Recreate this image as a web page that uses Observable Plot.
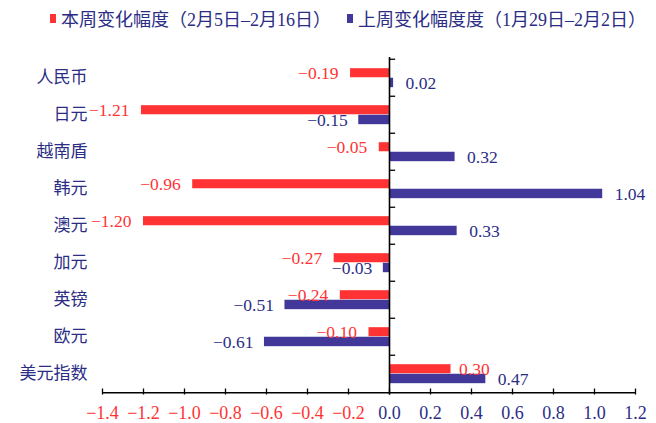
<!DOCTYPE html>
<html><head><meta charset="utf-8">
<script src="https://cdn.jsdelivr.net/npm/d3@7"></script>
<script src="https://cdn.jsdelivr.net/npm/@observablehq/plot@0.6"></script>
<style>
body{margin:0;background:#fff;width:656px;height:423px;overflow:hidden;}
#legend{height:36px;display:flex;align-items:center;font-family:"Liberation Serif","Times New Roman","Noto Sans CJK SC",serif;font-size:18px;color:#2b2d85;padding-left:50px;white-space:nowrap;}
#legend .item{display:flex;align-items:center;margin-right:16px;}
#legend .sw{width:6px;height:9px;margin-right:5px;display:inline-block;}
#chart svg{overflow:visible;}
</style></head><body>
<div id="legend"></div><div id="chart"></div>
<script>
const categories = ["人民币","日元","越南盾","韩元","澳元","加元","英镑","欧元","美元指数"];
const thisWeek = [-0.19,-1.21,-0.05,-0.96,-1.20,-0.27,-0.24,-0.10,0.30];
const lastWeek = [0.02,-0.15,0.32,1.04,0.33,-0.03,-0.51,-0.61,0.47];
const seriesNames = ["本周变化幅度（2月5日–2月16日）","上周变化幅度度（1月29日–2月2日）"];
const xTicks = [-1.4,-1.2,-1.0,-0.8,-0.6,-0.4,-0.2,0.0,0.2,0.4,0.6,0.8,1.0,1.2];

const RED = "#ff3333", BLUE = "#41389a", NAVY = "#2b2d85";
const SERIF = "'Liberation Serif','Times New Roman',serif";
const CJK = "'Liberation Serif','Noto Sans CJK SC',sans-serif";
const colors = [RED, BLUE];

const legend = document.getElementById("legend");
seriesNames.forEach((n,i)=>{
  const it = document.createElement("span"); it.className="item";
  const sw = document.createElement("span"); sw.className="sw"; sw.style.background=colors[i];
  it.appendChild(sw); it.appendChild(document.createTextNode(n));
  legend.appendChild(it);
});

const red = categories.map((c,i)=>({cat:c, v:thisWeek[i]}));
const blue = categories.map((c,i)=>({cat:c, v:lastWeek[i]}));
const fmt = d3.format(".2f");
const H = 387, MT = 21, MB = 28.5;
const step = (H - MT - MB) / categories.length;

const label = (data, {fill, dy, dxNeg, dxPos}) => [
  Plot.text(data.filter(d=>d.v<0), {x: "v", y: "cat", text: d=>fmt(d.v), dy, dx: dxNeg, textAnchor: "end", fill, fontSize: 17.5, fontFamily: SERIF}),
  Plot.text(data.filter(d=>d.v>=0), {x: "v", y: "cat", text: d=>fmt(d.v), dy, dx: dxPos, textAnchor: "start", fill, fontSize: 17.5, fontFamily: SERIF})
];

const chart = Plot.plot({
  width: 656, height: H,
  marginLeft: 102, marginRight: 21, marginTop: MT, marginBottom: MB,
  style: {fontFamily: CJK, fontSize: "17px", background: "#fff"},
  x: {domain: [-1.4, 1.2], axis: null},
  y: {type: "band", domain: categories, padding: 0, axis: null},
  marks: [
    Plot.barX(red, {x: "v", y: "cat", fill: RED, insetTop: step*0.245, insetBottom: step*0.5}),
    Plot.barX(blue, {x: "v", y: "cat", fill: BLUE, insetTop: step*0.5, insetBottom: step*0.235}),
    Plot.ruleX([0], {stroke: "#000", strokeWidth: 1.6}),
    Plot.ruleY(categories, {y: d=>d, dy: -step/2, x1: 0, x2: 0.03, stroke: "#000", strokeWidth: 1.3}),
    Plot.ruleY([categories[categories.length-1]], {y: d=>d, dy: step/2, x1: -1.4, x2: 1.2, stroke: "#000", strokeWidth: 1.6}),
    Plot.tickX(xTicks, {x: d=>d, insetTop: H - MT - MB - 6, stroke: "#000", strokeWidth: 1.3}),
    Plot.text(xTicks.filter(d=>d<0), {x: d=>d, frameAnchor: "bottom", lineAnchor: "top", dy: 11, text: d=>d3.format(".1f")(d), fill: RED, fontSize: 18, fontFamily: SERIF}),
    Plot.text(xTicks.filter(d=>d>=0), {x: d=>d, frameAnchor: "bottom", lineAnchor: "top", dy: 11, text: d=>d3.format(".1f")(d), fill: NAVY, fontSize: 18, fontFamily: SERIF}),
    Plot.axisY({tickSize: 0, tickPadding: 15, fill: NAVY, fontSize: 17, label: null, fontFamily: "'Noto Sans CJK SC',sans-serif"}),
    ...label(red, {fill: RED, dy: -5, dxNeg: -12, dxPos: 8}),
    ...label(blue, {fill: NAVY, dy: 5, dxNeg: -11, dxPos: 12})
  ]
});
document.getElementById("chart").appendChild(chart);
</script>
</body></html>
